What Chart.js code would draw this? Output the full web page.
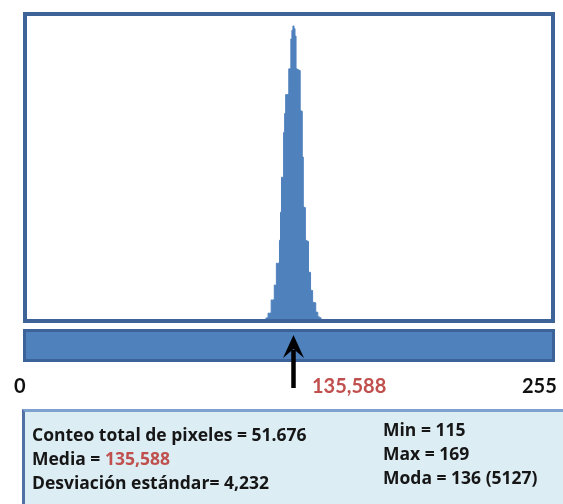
<!DOCTYPE html>
<html>
<head>
<meta charset="utf-8">
<script src="https://cdn.jsdelivr.net/npm/chart.js@4"></script>
<style>
  html, body { margin:0; padding:0; background:#fff; }
  body { width:563px; height:504px; position:relative; overflow:hidden; font-family: Lato, "Open Sans", sans-serif; font-weight:bold; }
  #plot { position:absolute; left:27px; top:16px; width:524px; height:304px; }
  #frame { position:absolute; left:23px; top:12px; width:524px; height:303px; border:4px solid #3d6399; pointer-events:none; }
  #band { position:absolute; left:23px; top:329px; width:526px; height:27px; background:#4f81bd; border:3px solid #3c6399; }
  .lbl { position:absolute; font-size:20px; line-height:1; white-space:nowrap; color:#111; }
  .red { color:#c0504d; }
  #stats { position:absolute; left:22px; top:409px; width:560px; height:110px; background:#dcedf4; border-top:3px solid #7ea2cf; border-left:3px solid #4f71a4; }
  .st { position:absolute; font-family:"Open Sans", Lato, sans-serif; font-size:17.5px; line-height:1; white-space:nowrap; color:#161616; }
  svg { position:absolute; left:0; top:0; }
</style>
</head>
<body>
<div id="plot"><canvas id="c"></canvas></div>
<div id="frame"></div>
<div id="band"></div>
<svg width="563" height="504">
  <line x1="293.5" y1="350" x2="293.5" y2="388" stroke="#000" stroke-width="4.5"/>
  <polygon points="293.5,335 283,358 293.5,349 304,358" fill="#000"/>
</svg>
<div class="lbl" style="left:14px; top:375px;">0</div>
<div class="lbl red" style="left:312px; top:375px;">135,588</div>
<div class="lbl" style="left:522px; top:375px;">255</div>
<div id="stats">
  <div class="st" style="left:7px; top:14px;">Conteo total de pixeles = 51.676</div>
  <div class="st" style="left:7px; top:38px;">Media = <span class="red">135,588</span></div>
  <div class="st" style="left:7px; top:62px;">Desviación estándar= 4,232</div>
  <div class="st" style="left:358px; top:9px;">Min = 115</div>
  <div class="st" style="left:358px; top:33px;">Max = 169</div>
  <div class="st" style="left:358px; top:57px;">Moda = 136 (5127)</div>
</div>
<script>
// Gray levels (bins) and pixel counts
const grayLevels = [115,116,117,118,119,120,121,122,123,124,125,126,127,128,129,130,131,132,133,134,135,136,137,138,139,140,141,142,143,144,145,146,147,148,149,150,151,152,153,154,155,156,157,158,159,160,161,162,163,164,165,166,167,168,169];
const pixelCounts = [30,35,40,120,118,122,350,345,355,610,605,990,985,995,1390,1880,2490,2485,3270,3600,3930,3925,3935,4380,4375,4900,5050,5127,5080,4950,4380,4370,4360,4350,3650,3640,2840,1970,1960,1390,1380,1370,835,830,520,515,310,305,300,140,135,60,50,40,20];
const xRange = [-115.2, 390.6];
const yMax = 5300;

new Chart(document.getElementById('c'), {
  type: 'line',
  data: {
    datasets: [{
      data: grayLevels.map((g, i) => ({ x: g, y: pixelCounts[i] })),
      stepped: 'middle',
      fill: 'origin',
      backgroundColor: '#4f81bd',
      borderColor: '#4f81bd',
      borderWidth: 1,
      pointRadius: 0
    }]
  },
  options: {
    responsive: true,
    maintainAspectRatio: false,
    animation: false,
    layout: { padding: 0 },
    plugins: { legend: { display: false }, tooltip: { enabled: false } },
    scales: {
      x: { type: 'linear', display: false, min: xRange[0], max: xRange[1] },
      y: { display: false, min: 0, max: yMax }
    }
  }
});
</script>
</body>
</html>
